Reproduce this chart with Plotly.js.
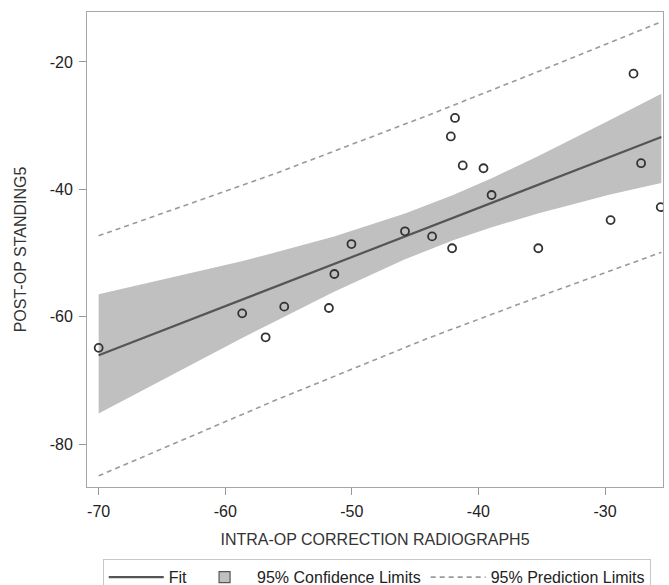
<!DOCTYPE html>
<html>
<head>
<meta charset="utf-8">
<script src="https://cdn.plot.ly/plotly-3.0.1.min.js"></script>
<style>html,body{margin:0;padding:0;background:#fff;}#chart{width:669px;height:585px;}</style>
</head>
<body>
<div id="chart"></div>
<script>
// Observed points
const xVals = [-27.75, -41.85, -42.18, -41.24, -39.6, -27.15, -38.96, -25.6, -29.56, -45.8,
               -43.66, -50.03, -42.08, -35.27, -51.38, -58.66, -55.34, -51.81, -56.81, -70.0];
const yVals = [-21.84, -28.8, -31.7, -36.26, -36.7, -35.9, -40.9, -42.8, -44.84, -46.6,
               -47.4, -48.6, -49.26, -49.26, -53.3, -59.48, -58.43, -58.64, -63.24, -64.9];

// Fit line (read at its ends)
const fitX = [-70.0, -25.55];
const fitY = [-66.06, -31.8];

// 95% confidence limits (read)
const bandX   = [-70.0, -58.7, -56.8, -51.4, -45.8, -42.0, -39.0, -35.3, -29.6, -25.55];
const ciUpper = [-56.5, -51.3, -50.3, -47.4, -43.8, -40.9, -38.3, -34.8, -29.1, -25.0];
const ciLower = [-75.2, -63.4, -61.5, -56.1, -51.0, -48.0, -46.0, -43.8, -40.8, -39.0];

// 95% prediction limits (read)
const predX   = [-70.0, -56.0, -44.0, -35.0, -25.55];
const piUpper = [-47.3, -37.5, -28.4, -21.3, -13.7];
const piLower = [-85.0, -73.1, -63.4, -56.7, -49.9];

// Ticks
const xTickVals = [-70, -60, -50, -40, -30];
const xTickText = ["-70", "-60", "-50", "-40", "-30"];
const yTickVals = [-80, -60, -40, -20];
const yTickText = ["-80", "-60", "-40", "-20"];

const FONT = "Liberation Sans, Arial, sans-serif";

const bandTrace = {
  x: bandX.concat(bandX.slice().reverse()),
  y: ciUpper.concat(ciLower.slice().reverse()),
  type: "scatter", mode: "lines", fill: "toself",
  fillcolor: "#c0c0c0", line: {width: 0, color: "#c0c0c0"},
  name: "95% Confidence Limits", showlegend: false, legendgroup: "ci", hoverinfo: "skip"
};
const ciKey = {
  x: [null], y: [null], type: "scatter", mode: "markers",
  marker: {symbol: "square", size: 11, color: "#c0c0c0", line: {color: "#555", width: 1.2}},
  name: "95% Confidence Limits", legendgroup: "ci", legendrank: 2
};
const piUp = {
  x: predX, y: piUpper, type: "scatter", mode: "lines",
  line: {color: "#9a9a9a", width: 1.6, dash: "5px,4px"},
  name: "95% Prediction Limits", legendgroup: "pi", legendrank: 3
};
const piLo = {
  x: predX, y: piLower, type: "scatter", mode: "lines",
  line: {color: "#9a9a9a", width: 1.6, dash: "5px,4px"},
  name: "95% Prediction Limits", legendgroup: "pi", showlegend: false
};
const fitTrace = {
  x: fitX, y: fitY, type: "scatter", mode: "lines",
  line: {color: "#555555", width: 2.2},
  name: "Fit", legendrank: 1
};
const pts = {
  x: xVals, y: yVals, type: "scatter", mode: "markers",
  marker: {symbol: "circle-open", size: 8, color: "#333333", line: {width: 1.8, color: "#333333"}},
  showlegend: false, name: "data"
};

const layout = {
  width: 669, height: 585,
  margin: {l: 87, r: 6, t: 12, b: 98, autoexpand: false},
  paper_bgcolor: "#ffffff", plot_bgcolor: "#ffffff",
  font: {family: FONT, color: "#222"},
  showlegend: true,
  xaxis: {
    range: [-70.92, -25.42], tickmode: "array", tickvals: xTickVals, ticktext: xTickText,
    ticks: "outside", ticklen: 7, tickcolor: "#999", tickwidth: 1, ticklabelstandoff: 3,
    showline: true, mirror: true, linecolor: "#a6a6a6", linewidth: 1,
    showgrid: false, zeroline: false, automargin: false,
    tickfont: {family: FONT, size: 16, color: "#222"},
    title: {text: "INTRA-OP CORRECTION RADIOGRAPH5", font: {family: FONT, size: 16, color: "#333"}, standoff: 14}
  },
  yaxis: {
    range: [-86.75, -12.16], tickmode: "array", tickvals: yTickVals, ticktext: yTickText,
    ticks: "outside", ticklen: 7, tickcolor: "#999", tickwidth: 1, ticklabelstandoff: 3,
    showline: true, mirror: true, linecolor: "#a6a6a6", linewidth: 1,
    showgrid: false, zeroline: false, automargin: false,
    tickfont: {family: FONT, size: 16, color: "#222"},
    title: {text: "POST-OP STANDING5", font: {family: FONT, size: 16, color: "#333"}, standoff: 19}
  },
  legend: {
    orientation: "h", x: 0.503, xanchor: "center", y: -0.152, yanchor: "top",
    bordercolor: "#c8c8c8", borderwidth: 1, bgcolor: "#fff", itemwidth: 55,
    font: {family: FONT, size: 16, color: "#222"}, traceorder: "normal"
  }
};

Plotly.newPlot("chart", [bandTrace, piUp, piLo, fitTrace, ciKey, pts], layout, {displayModeBar: false, staticPlot: true});
</script>
</body>
</html>
